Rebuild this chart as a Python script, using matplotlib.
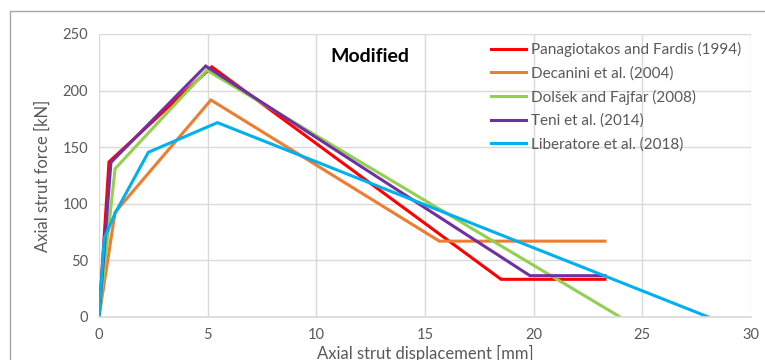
import matplotlib
matplotlib.use("Agg")
import matplotlib.pyplot as plt
from matplotlib.patches import Rectangle

plt.rcParams['font.family'] = ['Lato', 'DejaVu Sans']

series_names = ["Panagiotakos and Fardis (1994)", "Decanini et al. (2004)",
                "Dolšek and Fajfar (2008)", "Teni et al. (2014)",
                "Liberatore et al. (2018)"]
colors = ["#FF0000", "#ED7D31", "#92D050", "#7030A0", "#00B0F0"]

pf_x = [0, 0.46, 5.19, 18.5, 23.28]
pf_y = [0, 137, 221, 33.3, 33.3]
dec_x = [0, 0.74, 5.15, 15.66, 23.28]
dec_y = [0, 92.5, 191.7, 67, 67]
df_x = [0, 0.74, 4.96, 23.98]
df_y = [0, 131, 218, 0]
teni_x = [0, 0.55, 4.91, 19.83, 23.28]
teni_y = [0, 136.6, 221.7, 36.5, 36.5]
lib_x = [0, 0.24, 0.74, 2.27, 5.45, 28.04]
lib_y = [0, 69.5, 91.6, 145.5, 171.7, 0]

xs = [pf_x, dec_x, df_x, teni_x, lib_x]
ys = [pf_y, dec_y, df_y, teni_y, lib_y]

x_ticks = [0, 5, 10, 15, 20, 25, 30]
y_ticks = [0, 50, 100, 150, 200, 250]

fig = plt.figure(figsize=(7.65, 3.6), dpi=100)
fig.patches.append(Rectangle((10/765, -0.2), 1.2, (360-11)/360 + 0.2,
                             transform=fig.transFigure, fill=False,
                             edgecolor="#A6A6A6", linewidth=1.0))
ax = fig.add_axes([99/765, 1-317/360, (751-99)/765, (317-34)/360])

for x, y, c, n in zip(xs, ys, colors, series_names):
    ax.plot(x, y, color=c, linewidth=2.2, label=n, solid_joinstyle='miter')

ax.set_xlim(0, 30)
ax.set_ylim(0, 250)
ax.set_xticks(x_ticks)
ax.set_yticks(y_ticks)
ax.grid(True, color="#D9D9D9", linewidth=1.0)
ax.set_axisbelow(True)
for s in ["top", "right"]:
    ax.spines[s].set_visible(False)
ax.spines["left"].set_visible(False)
ax.spines["bottom"].set_color("#D9D9D9")
ax.spines["bottom"].set_linewidth(1.2)
ax.tick_params(axis='both', length=0, labelsize=10.5, labelcolor="#595959", pad=8)

ax.set_xlabel("Axial strut displacement [mm]", fontsize=12, color="#595959", labelpad=2)
ax.set_ylabel("Axial strut force [kN]", fontsize=12, color="#595959", labelpad=8)

ax.text(12.47, 229.7, "Modified", fontsize=14, fontweight='bold', color="black",
        ha='center', va='center')

leg = ax.legend(loc='upper left', bbox_to_anchor=(0.585, 1.01), frameon=False,
                fontsize=11, handlelength=2.3, handletextpad=0.3,
                labelspacing=0.6, borderaxespad=0.3)
for t in leg.get_texts():
    t.set_color("#595959")

fig.savefig("out.png", dpi=100)
